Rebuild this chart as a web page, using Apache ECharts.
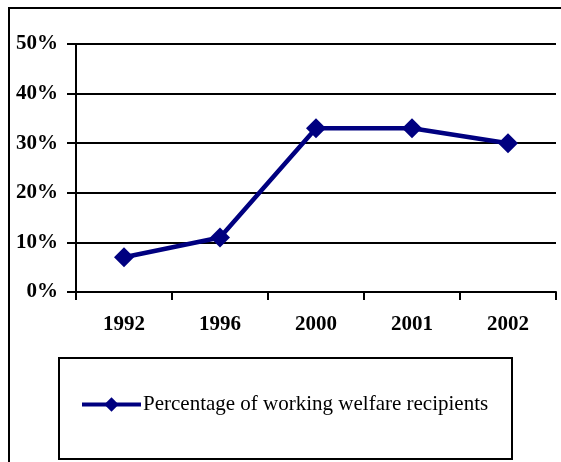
<!DOCTYPE html>
<html>
<head>
<meta charset="utf-8">
<style>
  html, body { margin: 0; padding: 0; background: #fff; }
  #chart { width: 561px; height: 462px; }
</style>
<script src="https://cdn.jsdelivr.net/npm/echarts@6/dist/echarts.min.js"></script>
</head>
<body>
<div id="chart"></div>
<script>
// Share of welfare recipients who are working, by year
const years = ['1992', '1996', '2000', '2001', '2002'];
const workingShare = [7, 11, 33, 33, 30];
const seriesName = 'Percentage of working welfare recipients';

const serif = '"Liberation Serif", "Times New Roman", serif';
const navy = '#000080';

const chart = echarts.init(document.getElementById('chart'), null, { renderer: 'canvas' });

chart.setOption({
  backgroundColor: '#ffffff',
  animation: false,
  grid: { left: 76, right: 5, top: 44, bottom: 170, containLabel: false },
  xAxis: {
    type: 'category',
    data: years,
    boundaryGap: true,
    axisLine: { lineStyle: { color: '#000', width: 2 } },
    axisTick: { show: true, alignWithLabel: false, length: 8, lineStyle: { color: '#000', width: 2 } },
    axisLabel: { color: '#000', fontFamily: serif, fontWeight: 'bold', fontSize: 21, margin: 22 },
    splitLine: { show: false }
  },
  yAxis: {
    type: 'value',
    min: 0,
    max: 50,
    interval: 10,
    axisLine: { show: true, lineStyle: { color: '#000', width: 2 } },
    axisTick: { show: true, length: 9, lineStyle: { color: '#000', width: 2 } },
    axisLabel: {
      color: '#000', fontFamily: serif, fontWeight: 'bold', fontSize: 21, margin: 18,
      formatter: v => v + '%'
    },
    splitLine: { show: true, lineStyle: { color: '#000', width: 2 } }
  },
  legend: {
    show: true,
    left: 80,
    top: 394,
    padding: 0,
    itemWidth: 59,
    itemHeight: 18,
    itemGap: 0,
    lineStyle: { width: 4 },
    textStyle: { color: '#000', fontFamily: serif, fontSize: 21, padding: [0, 0, 0, -3] },
    data: [{ name: seriesName }]
  },
  graphic: [
    {
      type: 'rect',
      silent: true,
      shape: { x: 9, y: 8, width: 600, height: 600 },
      style: { fill: null, stroke: '#000', lineWidth: 2 },
      z: -1
    },
    {
      type: 'rect',
      silent: true,
      shape: { x: 59, y: 358, width: 453, height: 101 },
      style: { fill: null, stroke: '#000', lineWidth: 2 },
      z: -1
    }
  ],
  series: [
    {
      name: seriesName,
      type: 'line',
      data: workingShare,
      symbol: 'diamond',
      symbolSize: 20,
      lineStyle: { color: navy, width: 4.5 },
      itemStyle: { color: navy },
      z: 5
    }
  ]
});
</script>
</body>
</html>
